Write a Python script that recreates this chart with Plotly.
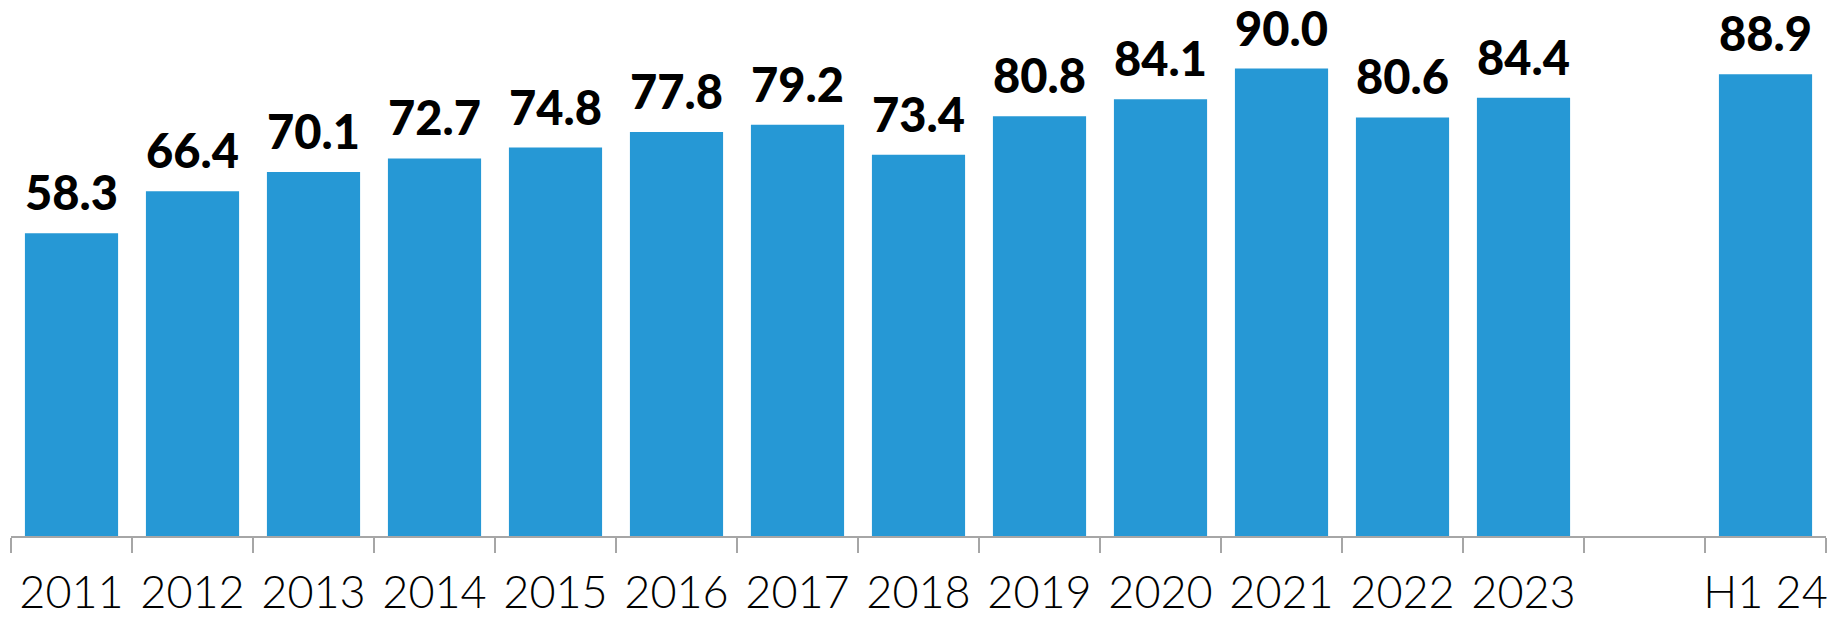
import plotly.graph_objects as go

categories = ["2011", "2012", "2013", "2014", "2015", "2016", "2017", "2018",
              "2019", "2020", "2021", "2022", "2023", " ", "H1 24"]
values = [58.3, 66.4, 70.1, 72.7, 74.8, 77.8, 79.2, 73.4,
          80.8, 84.1, 90.0, 80.6, 84.4, None, 88.9]
labels = ["58.3", "66.4", "70.1", "72.7", "74.8", "77.8", "79.2", "73.4",
          "80.8", "84.1", "90.0", "80.6", "84.4", "", "88.9"]

BAR = "#2698d5"

fig = go.Figure()
fig.add_trace(go.Bar(x=categories, y=values, marker=dict(color=BAR, line=dict(width=0)),
                     hoverinfo="skip"))

for i, (v, t) in enumerate(zip(values, labels)):
    if v is None:
        continue
    fig.add_annotation(x=i, y=v, text=t, showarrow=False, yanchor="bottom",
                       yshift=11, font=dict(family="Lato", size=47, color="#000000", weight=900),
                       xanchor="center")

fig.update_layout(
    width=1831, height=617,
    margin=dict(l=11, r=5, t=0, b=81, autoexpand=False),
    paper_bgcolor="white", plot_bgcolor="white",
    bargap=0.23,
    showlegend=False,
    font=dict(family="Lato", color="#000000"),
)
fig.update_xaxes(
    type="category", categoryorder="array", categoryarray=categories,
    range=[-0.5, len(categories) - 0.5], automargin=False,
    showline=True, linecolor="#a6a6a6", linewidth=2,
    ticks="outside", tickson="boundaries", ticklen=15, tickcolor="#a6a6a6", tickwidth=2,
    tickfont=dict(family="Lato", size=45, color="#000000", weight=300), tickangle=0,
    ticklabelstandoff=16, showgrid=False,
)
fig.update_yaxes(range=[0, 103.2], visible=False, showgrid=False, automargin=False)

fig.write_html("out.html")
